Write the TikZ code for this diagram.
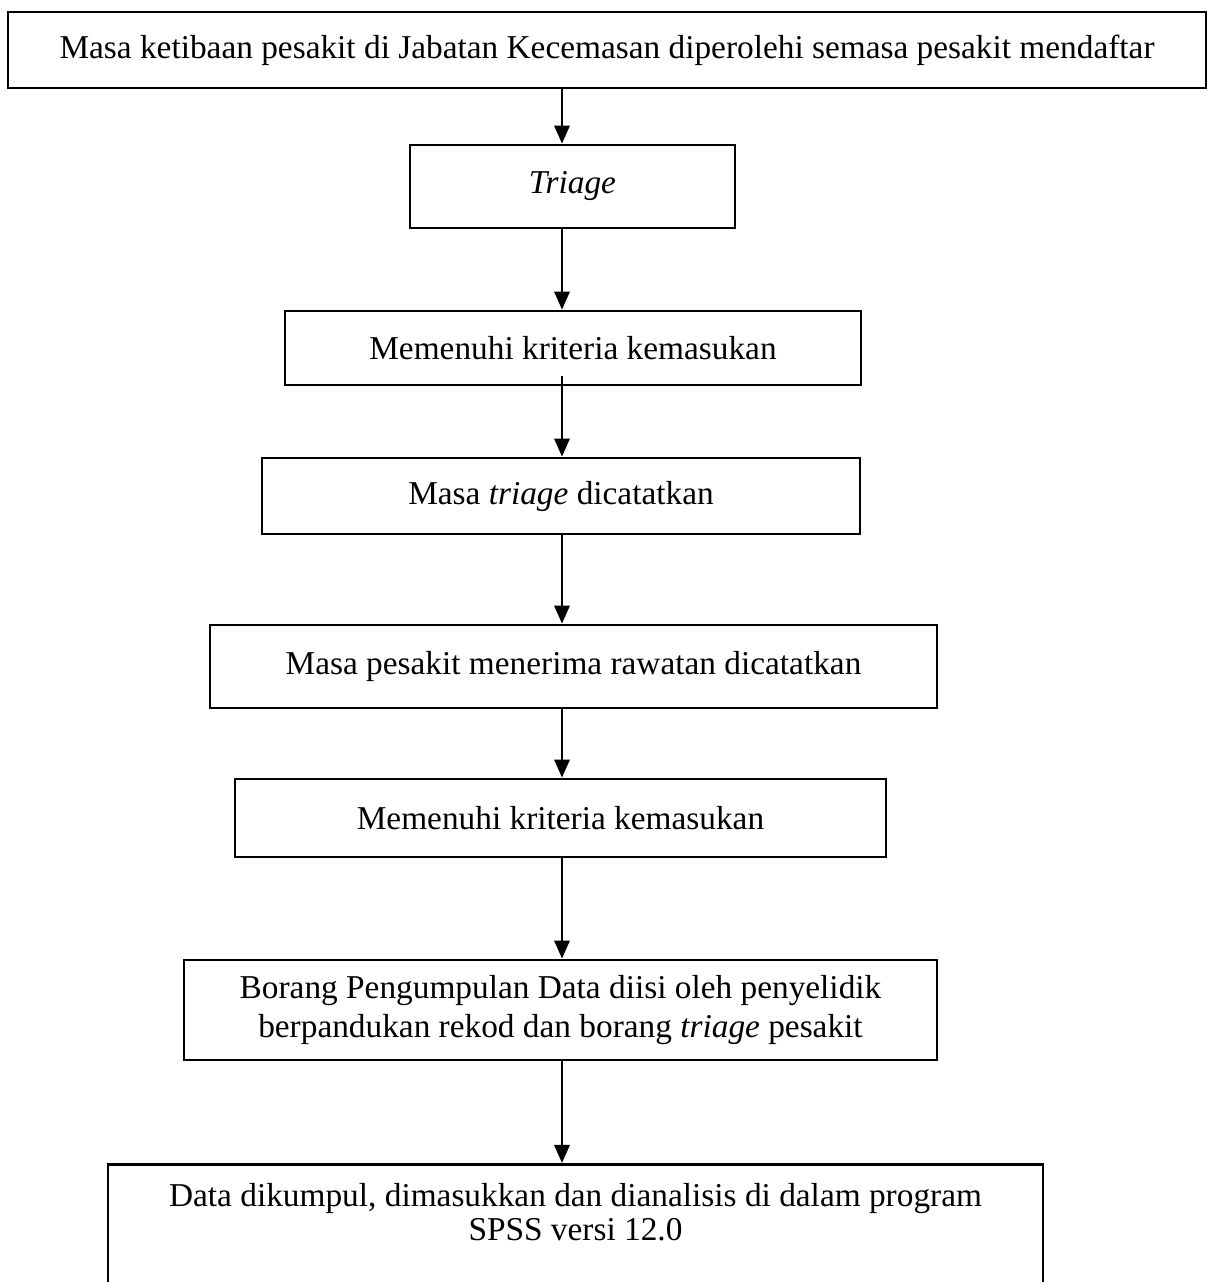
\documentclass[tikz,border=0pt]{standalone}
\usepackage{fontspec}
\setmainfont{Liberation Serif}
\usetikzlibrary{arrows.meta}

\begin{document}
\begin{tikzpicture}
            [x=0.36pt,y=-0.36pt,
             box/.style={draw,line width=1pt,inner sep=0pt,align=center,
               font=\fontsize{12}{13.7}\selectfont},
             flow/.style={-{Triangle[length=6.5pt,width=5.5pt]},line width=0.9pt}]
            \useasboundingbox (0,0) rectangle (1216,1282);
            \clip (0,0) rectangle (1216,1282);
            \coordinate (axis) at (562,0);
            % the boxes
            \node[box,minimum width=1198*0.36pt,minimum height=76*0.36pt] (arrive) at (607,50)
                {Masa ketibaan pesakit di Jabatan Kecemasan diperolehi semasa pesakit mendaftar};
            \node[box,minimum width=325*0.36pt,minimum height=83*0.36pt] (triage) at (572.5,186.5)
                {\textit{Triage}};
            \node[box,minimum width=576*0.36pt,minimum height=74*0.36pt] (crit1) at (573,348)
                {Memenuhi kriteria kemasukan};
            \node[box,minimum width=598*0.36pt,minimum height=76*0.36pt] (rec) at (561,496)
                {Masa \textit{triage} dicatatkan};
            \node[box,minimum width=727*0.36pt,minimum height=83*0.36pt] (care) at (573.5,666.5)
                {Masa pesakit menerima rawatan dicatatkan};
            \node[box,minimum width=651*0.36pt,minimum height=78*0.36pt] (crit2) at (560.5,818)
                {Memenuhi kriteria kemasukan};
            \node[box,minimum width=753*0.36pt,minimum height=100*0.36pt] (form) at (560.5,1010)
                {Borang Pengumpulan Data diisi oleh penyelidik\\berpandukan rekod dan borang \textit{triage} pesakit};
            \node[box,font=\fontsize{12}{12}\selectfont,minimum width=935*0.36pt,inner ysep=7pt,
                  text depth=60pt,anchor=north] (data) at (575.5,1163)
                {Data dikumpul, dimasukkan dan dianalisis di dalam program\\SPSS versi 12.0};
            % the arrows
            \draw[flow] (arrive.south -| axis) -- (triage.north -| axis);
            \draw[flow] (triage.south -| axis) -- (crit1.north -| axis);
            \draw[flow] ([yshift=10*0.36pt]crit1.south -| axis) -- (rec.north -| axis);
            \draw[flow] (rec.south -| axis) -- (care.north -| axis);
            \draw[flow] (care.south -| axis) -- (crit2.north -| axis);
            \draw[flow] (crit2.south -| axis) -- (form.north -| axis);
            \draw[flow] (form.south -| axis) -- (data.north -| axis);
        \end{tikzpicture}
\end{document}
